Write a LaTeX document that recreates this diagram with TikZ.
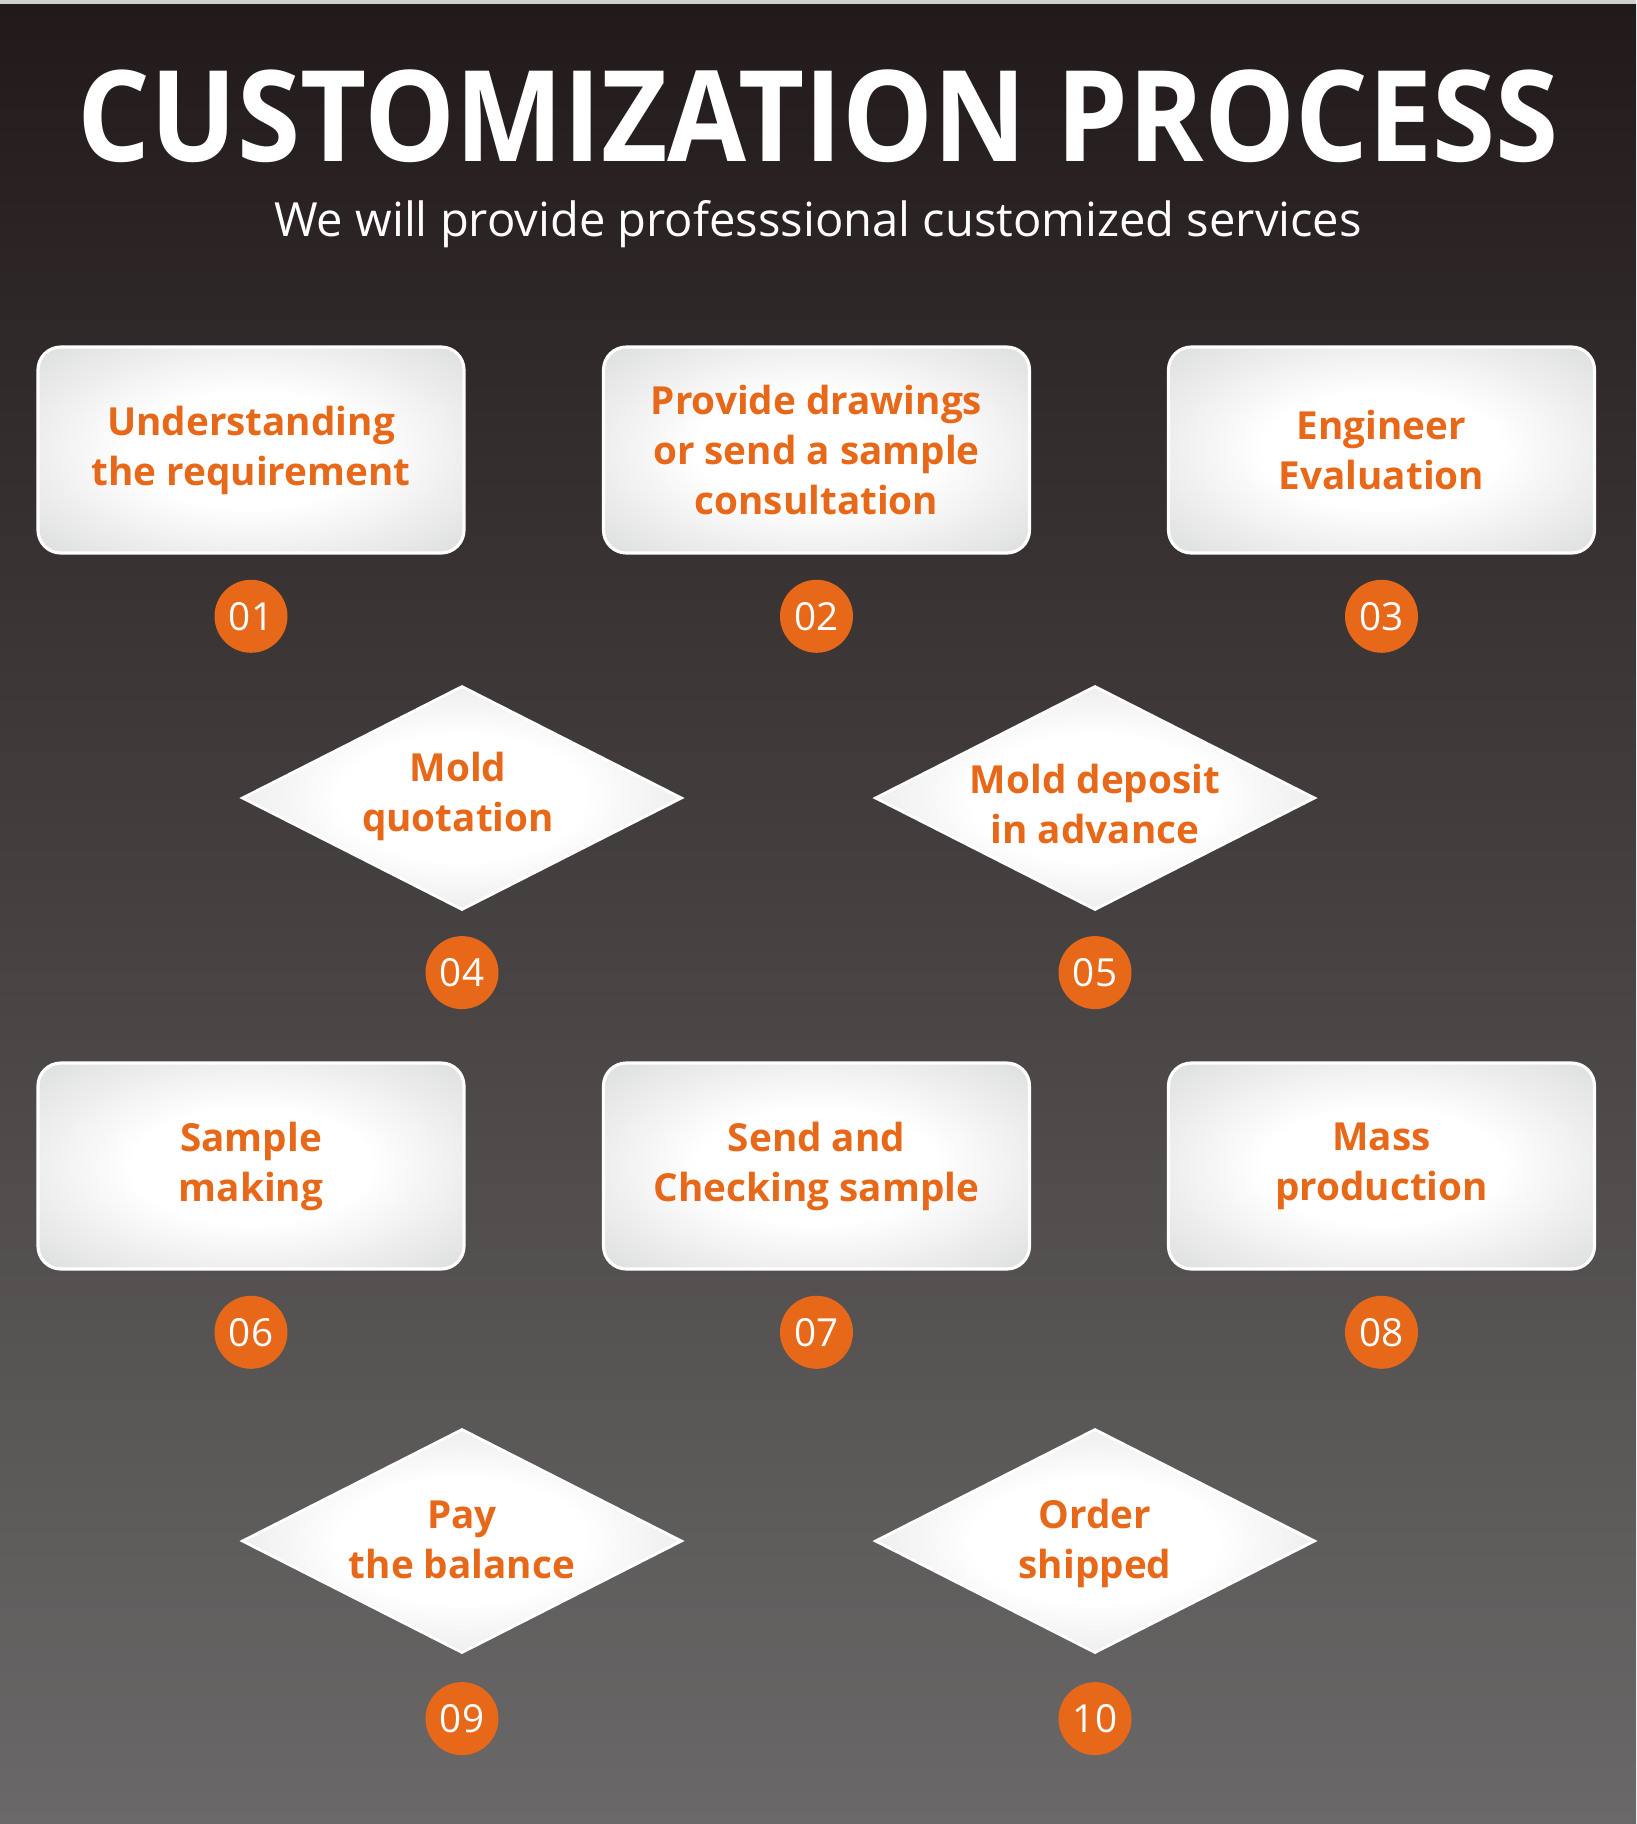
\documentclass[tikz,border=0pt]{standalone}
\usepackage{fontspec}
\setmainfont{Open Sans}
\usetikzlibrary{shapes.geometric, positioning}
\definecolor{procTop}{HTML}{221A1A}
\definecolor{procBottom}{HTML}{6A6868}
\definecolor{procStrip}{HTML}{CFCFCF}
\definecolor{procOrange}{HTML}{E8681A}
\definecolor{procGray}{HTML}{D3D4D4}
\pgfdeclareradialshading{procglow}{\pgfpoint{0bp}{0bp}}{%
  color(0bp)=(white); color(14bp)=(white); color(42bp)=(procGray); color(75bp)=(procGray)}
\tikzset{
  procfig/.style={
    every node/.append style={inner sep=0pt},
  },
  stepbox/.style={
    draw=white, line width=0.9pt, shade, shading=procglow, rounded corners=6.5pt,
    minimum width=4.26cm, minimum height=2.06cm, align=center,
    text=procOrange, font=\bfseries\fontsize{11}{14.2}\selectfont,
  },
  stepdia/.style={
    diamond, draw=white, line width=0.8pt, shade, shading=procglow,
    minimum width=4.4cm, minimum height=2.24cm,
  },
  steptext/.style={align=center, text=procOrange, font=\bfseries\fontsize{11}{14.2}\selectfont},
  stepnum/.style={
    circle, fill=procOrange, minimum size=0.73cm, text=white,
    font=\fontsize{11}{13}\selectfont,
  },
}

\begin{document}
\begin{tikzpicture}[procfig]
  \useasboundingbox (0,0) rectangle (16.36,-18.24);
  % Hintergrund: heller Streifen oben, dann Verlauf dunkel -> grau
  \fill[procStrip] (0,0) rectangle (16.36,-0.04);
  \shade[top color=procTop, bottom color=procBottom] (0,-0.04) rectangle (16.36,-18.24);

  \node[text=white, font=\bfseries\fontsize{36}{40}\selectfont] (title) at (8.18,-1.16) {\scalebox{0.905}[1]{CUSTOMIZATION PROCESS}};
  \node[text=white, font=\fontsize{13.4}{15}\selectfont] (subtitle) at (8.18,-2.24) {We will provide professsional customized services};

  % erste Reihe
  \node[stepbox] (box1) at (2.51,-4.50) {Understanding\\the requirement};
  \node[stepbox] (box2) at (8.165,-4.50) {Provide drawings\\or send a sample\\consultation};
  \node[stepbox] (box3) at (13.815,-4.50) {Engineer\\Evaluation};
  \node[stepnum, below=0.245cm of box1] (num1) {01};
  \node[stepnum, below=0.245cm of box2] (num2) {02};
  \node[stepnum, below=0.245cm of box3] (num3) {03};

  \node[stepdia] (dia4) at (4.62,-7.98) {};
  \node[stepdia] (dia5) at (10.95,-7.98) {};
  \node[steptext] (txt4) at ([xshift=-0.04cm, yshift=0.02cm]dia4.center) {Mold\\quotation};
  \node[steptext] (txt5) at ([yshift=-0.06cm]dia5.center) {Mold deposit\\in advance};
  \node[stepnum, below=0.24cm of dia4] (num4) {04};
  \node[stepnum, below=0.24cm of dia5] (num5) {05};

  % zweite Reihe
  \node[stepbox] (box6) at (2.51,-11.66) {Sample\\making};
  \node[stepbox] (box7) at (8.165,-11.66) {Send and\\Checking sample};
  \node[stepbox] (box8) at (13.815,-11.66) {Mass\\production};
  \node[stepnum, below=0.245cm of box6] (num6) {06};
  \node[stepnum, below=0.245cm of box7] (num7) {07};
  \node[stepnum, below=0.245cm of box8] (num8) {08};

  \node[stepdia] (dia9) at (4.62,-15.41) {};
  \node[stepdia] (dia10) at (10.95,-15.41) {};
  \node[steptext] (txt9) at ([yshift=0.01cm]dia9.center) {Pay\\the balance};
  \node[steptext] (txt10) at ([yshift=-0.02cm]dia10.center) {Order\\shipped};
  \node[stepnum, below=0.27cm of dia9] (num9) {09};
  \node[stepnum, below=0.27cm of dia10] (num10) {10};
\end{tikzpicture}
\end{document}
